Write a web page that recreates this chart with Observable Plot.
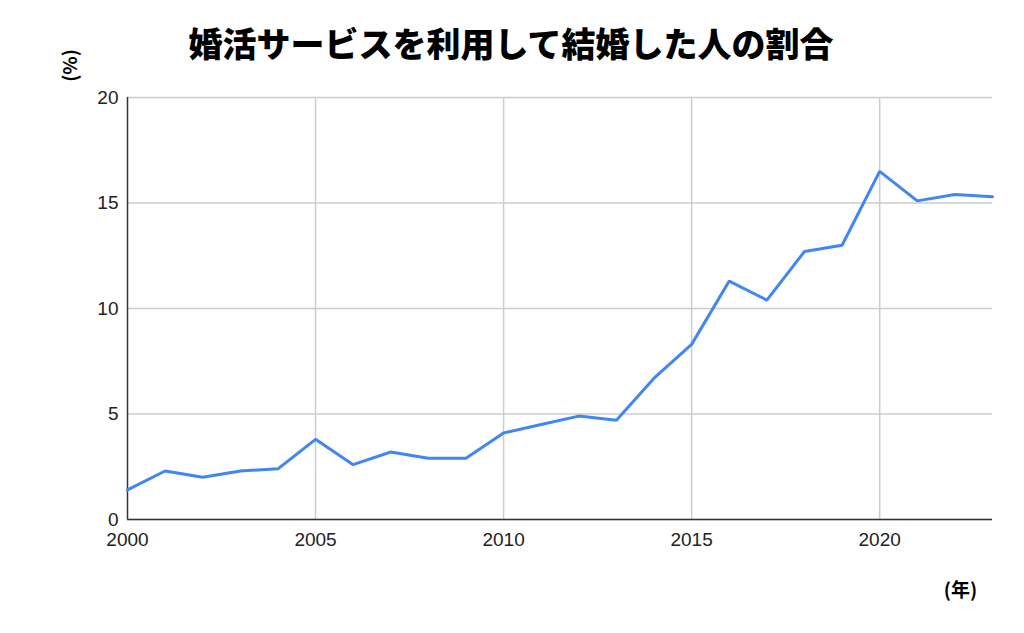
<!DOCTYPE html>
<html><head><meta charset="utf-8">
<script src="https://cdn.jsdelivr.net/npm/d3@7"></script>
<script src="https://cdn.jsdelivr.net/npm/@observablehq/plot@0.6"></script>
<style>
body{margin:0;background:#fff;}
#chart{position:relative;width:1024px;height:633px;}
</style>
</head><body><div id="chart"></div>
<script>
const years = [2000,2001,2002,2003,2004,2005,2006,2007,2008,2009,2010,2011,2012,2013,2014,2015,2016,2017,2018,2019,2020,2021,2022,2023];
const shares = [1.4,2.3,2.0,2.3,2.4,3.8,2.6,3.2,2.9,2.9,4.1,4.5,4.9,4.7,6.7,8.3,11.3,10.4,12.7,13.0,16.5,15.1,15.4,15.3];
const xTicks = [2000,2005,2010,2015,2020];
const yTicks = [0,5,10,15,20];
const title = "婚活サービスを利用して結婚した人の割合";
const yLabel = "(%)";
const xLabel = "(年)";

const data = years.map((y,i)=>({year:y, value:shares[i]}));
const cjk = "'Noto Sans CJK JP', sans-serif";

const plot = Plot.plot({
  width:1024, height:633,
  marginTop:97, marginBottom:114, marginLeft:127, marginRight:32,
  style:{fontFamily:"'Liberation Sans', Arial, sans-serif", fontSize:"19px", color:"#222", background:"#fff"},
  x:{domain:[2000,2023], ticks:xTicks, tickFormat:d=>String(d), label:null},
  y:{domain:[0,20], ticks:yTicks, label:null},
  marks:[
    Plot.gridY(yTicks,{stroke:"#cccccc", strokeOpacity:1, strokeWidth:1.5}),
    Plot.gridX(xTicks.slice(1),{stroke:"#cccccc", strokeOpacity:1, strokeWidth:1.5}),
    Plot.axisY(yTicks,{tickSize:0, tickPadding:9, fontSize:19, fill:"#222"}),
    Plot.axisX(xTicks,{tickSize:0, tickPadding:13, fontSize:19, fill:"#222", tickFormat:d=>String(d)}),
    Plot.ruleY([0],{stroke:"#333", strokeWidth:1.5}),
    Plot.ruleX([2000],{stroke:"#333", strokeWidth:1.5}),
    Plot.line(data,{x:"year", y:"value", stroke:"#4285F4", strokeWidth:3, strokeLinejoin:"miter"}),
    Plot.text([title],{frameAnchor:"top", dy:-51, dx:-49, lineAnchor:"middle", text:d=>d, fontSize:34, fontWeight:900, fill:"#000", fontFamily:cjk}),
    Plot.text([yLabel],{frameAnchor:"top-left", dx:-57, dy:-32, lineAnchor:"middle", textAnchor:"middle", text:d=>d, fontSize:19, fontWeight:"bold", fill:"#000", rotate:-90, fontFamily:cjk}),
    Plot.text([xLabel],{frameAnchor:"bottom-right", dx:-32, dy:71, lineAnchor:"middle", textAnchor:"middle", text:d=>d, fontSize:19, fontWeight:"bold", fill:"#000", fontFamily:cjk})
  ]
});
document.getElementById("chart").appendChild(plot);
</script>
</body></html>
